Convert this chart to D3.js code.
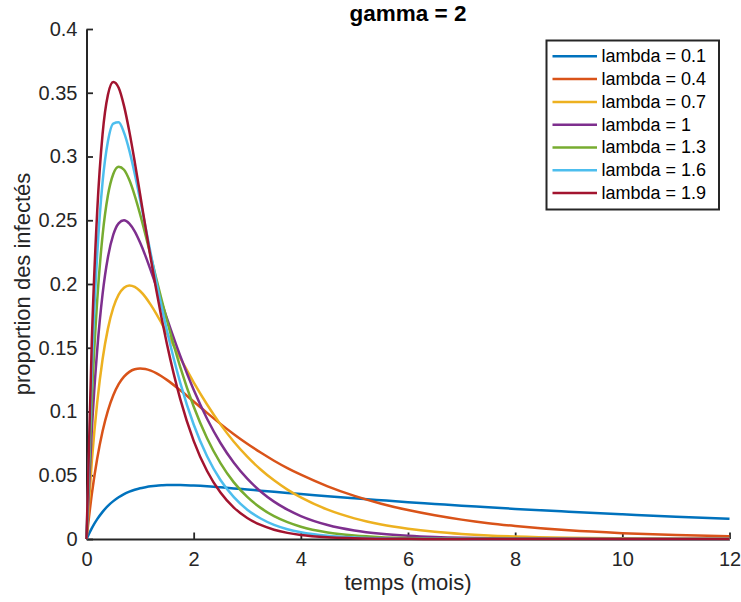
<!DOCTYPE html>
<html>
<head>
<meta charset="utf-8">
<script src="https://cdn.jsdelivr.net/npm/d3@7"></script>
<style>
  html, body { margin: 0; padding: 0; background: #fff; }
  svg { display: block; font-family: "Liberation Sans", Arial, Helvetica, sans-serif; }
</style>
</head>
<body>
<svg id="chart" width="741" height="602"></svg>
<script>
// ---- data ----
const titleText = "gamma = 2";
const xLabel = "temps (mois)";
const yLabel = "proportion des infectés";

const times = [0,0.1,0.2,0.3,0.4,0.5,0.6,0.7,0.8,0.9,1,1.1,1.2,1.3,1.4,1.5,1.75,2,2.25,2.5,2.75,3,3.25,3.5,3.75,4,4.5,5,5.5,6,6.5,7,7.5,8,9,10,11,12];

const seriesNames = ["lambda = 0.1","lambda = 0.4","lambda = 0.7","lambda = 1","lambda = 1.3","lambda = 1.6","lambda = 1.9"];
const seriesColors = ["#0072BD","#D95319","#EDB120","#7E2F8E","#77AC30","#4DBEEE","#A2142F"];

const lambda01 = [0,0.0086,0.0156,0.0213,0.0260,0.0297,0.0327,0.0352,0.0371,0.0386,0.0398,0.0406,0.0413,0.0418,0.0421,0.0423,0.0423,0.0419,0.0413,0.0405,0.0397,0.0388,0.0379,0.0370,0.0361,0.0353,0.0335,0.0319,0.0304,0.0289,0.0275,0.0261,0.0249,0.0236,0.0214,0.0194,0.0175,0.0159];
const lambda04 = [0,0.0355,0.0632,0.0845,0.1007,0.1127,0.1214,0.1273,0.1311,0.1331,0.1337,0.1333,0.1320,0.1301,0.1276,0.1248,0.1166,0.1078,0.0989,0.0903,0.0822,0.0747,0.0678,0.0614,0.0556,0.0504,0.0413,0.0338,0.0277,0.0227,0.0186,0.0152,0.0124,0.0102,0.0068,0.0046,0.0031,0.0021];
const lambda07 = [0,0.0612,0.1072,0.1410,0.1650,0.1814,0.1916,0.1971,0.1989,0.1978,0.1945,0.1897,0.1836,0.1768,0.1693,0.1616,0.1419,0.1229,0.1055,0.0899,0.0763,0.0646,0.0545,0.0460,0.0387,0.0326,0.0230,0.0162,0.0114,0.0081,0.0057,0.0040,0.0028,0.0020,0.0010,0.0005,0.0002,0.0001];
const lambda10 = [0,0.0861,0.1484,0.1920,0.2210,0.2387,0.2476,0.2500,0.2474,0.2413,0.2325,0.2221,0.2105,0.1983,0.1858,0.1733,0.1436,0.1170,0.0943,0.0753,0.0598,0.0473,0.0373,0.0293,0.0230,0.0180,0.0110,0.0067,0.0041,0.0025,0.0015,0.0009,0.0006,0.0003,0.0001,0,0,0];
const lambda13 = [0,0.1102,0.1871,0.2382,0.2696,0.2863,0.2920,0.2896,0.2815,0.2694,0.2548,0.2387,0.2218,0.2047,0.1880,0.1718,0.1348,0.1039,0.0790,0.0595,0.0444,0.0330,0.0244,0.0179,0.0132,0.0096,0.0051,0.0027,0.0014,0.0008,0.0004,0.0002,0.0001,0.0001,0,0,0,0];
const lambda16 = [0,0.1337,0.2233,0.2799,0.3119,0.3258,0.3268,0.3187,0.3046,0.2865,0.2662,0.2450,0.2236,0.2026,0.1826,0.1637,0.1225,0.0898,0.0649,0.0463,0.0328,0.0230,0.0161,0.0111,0.0077,0.0053,0.0025,0.0012,0.0005,0.0002,0.0001,0.0001,0,0,0,0,0,0];
const lambda19 = [0,0.1563,0.2573,0.3176,0.3484,0.3584,0.3539,0.3397,0.3195,0.2958,0.2704,0.2448,0.2198,0.1959,0.1736,0.1531,0.1097,0.0770,0.0533,0.0364,0.0246,0.0165,0.0110,0.0073,0.0048,0.0031,0.0013,0.0006,0.0002,0.0001,0,0,0,0,0,0,0,0];

const xTicks = [0,2,4,6,8,10,12];
const yTicks = [0,0.05,0.1,0.15,0.2,0.25,0.3,0.35,0.4];

// ---- build ----
const seriesValues = [lambda01, lambda04, lambda07, lambda10, lambda13, lambda16, lambda19];
const series = seriesNames.map((name, i) => ({
  name, color: seriesColors[i],
  points: times.map((t, j) => ({t, v: seriesValues[i][j]}))
}));

const axisColor = "#262626";
const plotLeft = 86.5, plotRight = 729.5, plotTop = 29, plotBottom = 539;

const svg = d3.select("#chart");
const x = d3.scaleLinear().domain([0, 12]).range([plotLeft, plotRight]);
const y = d3.scaleLinear().domain([0, 0.4]).range([plotBottom, plotTop]);

// axes
const xAxis = d3.axisBottom(x).tickValues(xTicks).tickSizeInner(-6.5).tickSizeOuter(0).tickPadding(13).tickFormat(d => String(d));
const yAxis = d3.axisLeft(y).tickValues(yTicks).tickSizeInner(-6.5).tickSizeOuter(0).tickPadding(9).tickFormat(d => String(d));

const gx = svg.append("g").attr("transform", `translate(0,${plotBottom})`).call(xAxis);
const gy = svg.append("g").attr("transform", `translate(${plotLeft},0)`).call(yAxis);
[gx, gy].forEach(g => {
  g.select(".domain").attr("stroke", axisColor).attr("stroke-width", 2);
  g.selectAll(".tick line").attr("stroke", axisColor).attr("stroke-width", 1.8);
  g.selectAll(".tick text").attr("fill", axisColor).style("font-size", "20px")
    .style("font-family", '"Liberation Sans", Arial, Helvetica, sans-serif');
});

// lines
const line = d3.line().x(d => x(d.t)).y(d => y(d.v)).curve(d3.curveMonotoneX);
svg.append("g").selectAll("path").data(series).join("path")
  .attr("d", d => line(d.points))
  .attr("fill", "none")
  .attr("stroke", d => d.color)
  .attr("stroke-width", 2.5)
  .attr("stroke-linejoin", "round");

// title
svg.append("text").attr("x", (plotLeft + plotRight) / 2).attr("y", 20.5)
  .attr("text-anchor", "middle").style("font-size", "22.5px").style("font-weight", "bold")
  .attr("fill", "#000").text(titleText);

// axis labels
svg.append("text").attr("x", (plotLeft + plotRight) / 2).attr("y", 590)
  .attr("text-anchor", "middle").style("font-size", "22px").attr("fill", axisColor).text(xLabel);
svg.append("text").attr("transform", `translate(29.5,${(plotTop + plotBottom) / 2}) rotate(-90)`)
  .attr("text-anchor", "middle").style("font-size", "22px").attr("fill", axisColor).text(yLabel);

// legend
const lg = svg.append("g");
lg.append("rect").attr("x", 546.5).attr("y", 40.5).attr("width", 172.5).attr("height", 169)
  .attr("fill", "#fff").attr("stroke", axisColor).attr("stroke-width", 2);
const rows = lg.selectAll("g.row").data(series).join("g").attr("class", "row")
  .attr("transform", (d, i) => `translate(0,${56.3 + i * 22.8})`);
rows.append("line").attr("x1", 552.5).attr("x2", 597).attr("y1", 0).attr("y2", 0)
  .attr("stroke", d => d.color).attr("stroke-width", 2.5);
rows.append("text").attr("x", 601.5).attr("y", 0).attr("dy", "0.33em")
  .style("font-size", "18px").attr("fill", "#000").text(d => d.name);
</script>
</body>
</html>
